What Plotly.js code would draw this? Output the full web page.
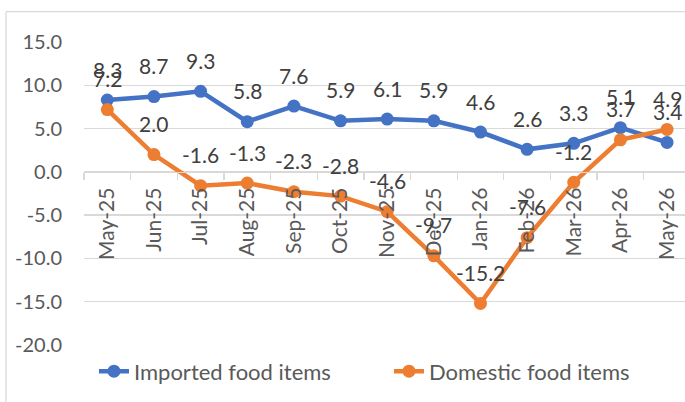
<!DOCTYPE html>
<html>
<head>
<meta charset="utf-8">
<script src="https://cdn.plot.ly/plotly-3.0.1.min.js"></script>
<style>html,body{margin:0;padding:0;background:#fff;}#chart{width:685px;height:402px;}</style>
</head>
<body>
<div id="chart"></div>
<script>
const months = ["May-25","Jun-25","Jul-25","Aug-25","Sep-25","Oct-25","Nov-25","Dec-25","Jan-26","Feb-26","Mar-26","Apr-26","May-26"];
const imported = [8.3, 8.7, 9.3, 5.8, 7.6, 5.9, 6.1, 5.9, 4.6, 2.6, 3.3, 5.1, 3.4];
const domestic = [7.2, 2.0, -1.6, -1.3, -2.3, -2.8, -4.6, -9.7, -15.2, -7.6, -1.2, 3.7, 4.9];
const yTicks = [15, 10, 5, 0, -5, -10, -15, -20];

const BLUE = "#4472C4", ORANGE = "#ED7D31";
const FONT = "Lato, 'Open Sans', sans-serif";

function series(name, vals, color) {
  return {
    type: "scatter", mode: "lines+markers", name: name,
    x: months, y: vals,
    line: {color: color, width: 4.5},
    marker: {color: color, size: 13},
    hoverinfo: "skip"
  };
}

const annotations = [];
[imported, domestic].forEach((vals) => {
  vals.forEach((v, i) => {
    annotations.push({
      x: months[i], y: v, xref: "x", yref: "y",
      text: v.toFixed(1), showarrow: false, yshift: 31,
      font: {family: FONT, size: 21, color: "#404040"}
    });
  });
});

const layout = {
  width: 685, height: 402,
  margin: {l: 84, r: 0, t: 42, b: 57},
  paper_bgcolor: "#fff", plot_bgcolor: "#fff",
  showlegend: true,
  legend: {
    orientation: "h", x: 0.0166, xanchor: "left", y: -0.087, yanchor: "middle",
    font: {family: FONT, size: 22, color: "#595959"},
    entrywidth: 250, entrywidthmode: "pixels", bgcolor: "rgba(0,0,0,0)"
  },
  xaxis: {
    type: "category", range: [-0.5, 12.385],
    anchor: "free", position: 20/35,
    showline: true, linecolor: "#d9d9d9", linewidth: 1.3,
    ticks: "outside", tickson: "boundaries", ticklen: 7, tickcolor: "#d9d9d9", tickwidth: 1.3,
    tickangle: -90, showgrid: false, zeroline: false,
    ticklabelstandoff: 6,
    tickfont: {family: FONT, size: 21, color: "#595959"},
    fixedrange: true
  },
  yaxis: {
    range: [-20, 15], tickvals: yTicks, ticktext: yTicks.map(v => v.toFixed(1)),
    showgrid: true, gridcolor: "#d9d9d9", gridwidth: 1.3,
    zeroline: false, showline: false, ticks: "",
    ticklabelstandoff: 21,
    tickfont: {family: FONT, size: 20, color: "#595959"},
    fixedrange: true
  },
  annotations: annotations,
  shapes: [
    {type: "line", xref: "paper", yref: "paper", x0: -0.1298, x1: -0.1298, y0: 1.1, y1: -0.2, line: {color: "#d9d9d9", width: 1.3}, layer: "below"},
    {type: "line", xref: "paper", yref: "paper", x0: -0.1298, x1: 1.01, y0: 1.1, y1: 1.1, line: {color: "#d9d9d9", width: 1.3}, layer: "below"}
  ]
};

Plotly.newPlot("chart", [series("Imported food items", imported, BLUE), series("Domestic food items", domestic, ORANGE)], layout, {staticPlot: true, displayModeBar: false});
</script>
</body>
</html>
